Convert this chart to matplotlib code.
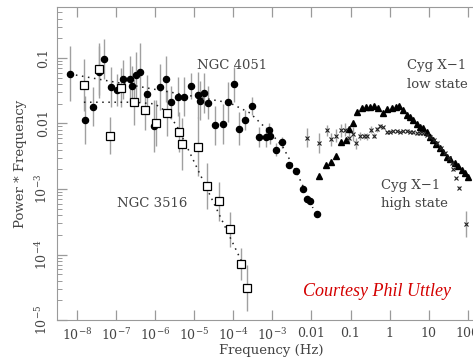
import numpy as np
import matplotlib
matplotlib.use("Agg")
import matplotlib.pyplot as plt

# NGC 4051 (filled circles)
ngc4051_freq = [6.75e-9, 1.66e-8, 2.61e-8, 3.59e-8, 4.99e-8, 7.28e-8, 1.04e-7, 1.50e-7,
                2.27e-7, 2.55e-7, 3.29e-7, 4.08e-7, 6.07e-7, 9.48e-7, 1.33e-6, 1.86e-6,
                2.58e-6, 3.83e-6, 5.55e-6, 8.24e-6, 1.22e-5, 1.37e-5, 1.80e-5, 2.28e-5,
                3.38e-5, 5.32e-5, 7.28e-5, 1.02e-4, 1.41e-4, 2.01e-4, 2.99e-4, 4.44e-4,
                6.70e-4, 8.00e-4, 8.79e-4, 1.21e-3, 1.78e-3, 2.69e-3, 4.06e-3, 6.03e-3,
                7.76e-3, 9.27e-3, 1.37e-2]
ngc4051_power = [5.70e-2, 1.13e-2, 1.81e-2, 6.11e-2, 9.66e-2, 3.61e-2, 3.24e-2, 4.72e-2,
                 4.72e-2, 3.74e-2, 5.50e-2, 6.04e-2, 2.79e-2, 9.16e-3, 3.57e-2, 4.78e-2,
                 2.10e-2, 2.57e-2, 2.57e-2, 3.78e-2, 2.72e-2, 2.23e-2, 2.92e-2, 2.08e-2,
                 9.38e-3, 9.82e-3, 2.13e-2, 3.96e-2, 8.34e-3, 1.12e-2, 1.83e-2, 6.28e-3,
                 6.28e-3, 7.96e-3, 6.38e-3, 3.98e-3, 5.16e-3, 2.35e-3, 1.86e-3, 1.01e-3,
                 7.03e-4, 6.62e-4, 4.11e-4]
# error bar half-size in decades
ngc4051_err = [0.42, 0.36, 0.3, 0.4, 0.3, 0.3, 0.25, 0.3, 0.35, 0.3, 0.35, 0.45, 0.3, 0.4,
               0.35, 0.35, 0.25, 0.3, 0.3, 0.2, 0.35, 0.3, 0.3, 0.25, 0.3, 0.3, 0.3, 0.27,
               0.25, 0.15, 0.14, 0.15, 0.15, 0.1, 0.12, 0.1, 0.08, 0.04, 0.03, 0.02, 0.02,
               0.02, 0.02]
ngc4051_model_freq = [6.62e-9, 8.18e-5, 2.66e-4, 8.63e-4, 1.86e-3, 4.49e-3, 1.09e-2]
ngc4051_model_power = [5.70e-2, 2.06e-2, 1.45e-2, 7.41e-3, 4.38e-3, 1.64e-3, 5.13e-4]

# NGC 3516 (open squares)
ngc3516_freq = [1.54e-8, 3.59e-8, 6.98e-8, 1.33e-7, 2.92e-7, 5.38e-7, 1.03e-6, 2.04e-6,
                4.06e-6, 4.84e-6, 1.22e-5, 2.19e-5, 4.20e-5, 8.18e-5, 1.62e-4, 2.27e-4]
ngc3516_power = [3.87e-2, 6.79e-2, 6.52e-3, 3.52e-2, 2.10e-2, 1.59e-2, 1.02e-2, 1.45e-2,
                 7.41e-3, 4.86e-3, 4.43e-3, 1.12e-3, 6.49e-4, 2.43e-4, 7.16e-5, 3.05e-5]
ngc3516_err = [0.4, 0.4, 0.28, 0.3, 0.35, 0.3, 0.35, 0.35, 0.3, 0.4, 0.45, 0.35, 0.3,
               0.27, 0.25, 0.35]
ngc3516_model_freq = [1.51e-8, 3.04e-7, 9.89e-7, 2.00e-6, 3.61e-6, 4.84e-6, 1.66e-4]
ngc3516_model_power = [2.11e-2, 2.11e-2, 1.99e-2, 1.50e-2, 9.16e-3, 6.44e-3, 7.67e-5]

# Cyg X-1 low state (filled triangles)
cyg_low_freq = [1.57e-2, 2.33e-2, 3.08e-2, 4.13e-2, 5.65e-2, 7.45e-2, 9.06e-2, 0.116,
                0.145, 0.191, 0.246, 0.310, 0.394, 0.508, 0.658, 0.834, 1.12, 1.44, 1.75,
                2.18, 2.70, 3.29, 3.92, 4.88, 5.92, 7.06, 8.79, 10.7, 13.0, 15.8, 19.2,
                23.3, 28.5, 34.7, 46.6, 55.5, 69.0, 83.8, 102]
cyg_low_power = [1.58e-3, 2.32e-3, 2.61e-3, 3.16e-3, 5.13e-3, 5.60e-3, 8.15e-3, 1.02e-2,
                 1.51e-2, 1.71e-2, 1.77e-2, 1.80e-2, 1.87e-2, 1.71e-2, 1.46e-2, 1.65e-2,
                 1.71e-2, 1.77e-2, 1.85e-2, 1.61e-2, 1.35e-2, 1.26e-2, 1.13e-2, 9.82e-3,
                 8.85e-3, 8.53e-3, 7.41e-3, 6.28e-3, 5.60e-3, 4.86e-3, 4.23e-3, 3.67e-3,
                 3.11e-3, 2.87e-3, 2.47e-3, 2.24e-3, 1.95e-3, 1.75e-3, 1.54e-3]

# Cyg X-1 high state (crosses)
cyg_high_freq = [7.76e-3, 1.55e-2, 2.43e-2, 3.08e-2, 4.21e-2, 5.82e-2, 7.36e-2, 9.16e-2,
                 0.115, 0.142, 0.178, 0.219, 0.266, 0.327, 0.394, 0.484, 0.578, 0.690,
                 0.834, 1.01, 1.23, 1.50, 1.82, 2.21, 2.70, 3.29, 3.99, 4.88, 5.92, 7.19,
                 8.79, 10.7, 13.5, 16.4, 20.4, 25.8, 32.7, 38.3, 40.6, 50.8, 59.8, 88.9]
cyg_high_power = [6.11e-3, 4.99e-3, 7.87e-3, 5.75e-3, 6.49e-3, 7.87e-3, 8.04e-3, 6.11e-3,
                  6.92e-3, 4.99e-3, 6.40e-3, 6.40e-3, 6.38e-3, 8.04e-3, 6.49e-3, 8.15e-3,
                  9.23e-3, 8.69e-3, 7.29e-3, 7.50e-3, 7.68e-3, 7.68e-3, 7.41e-3, 7.68e-3,
                  7.76e-3, 7.50e-3, 7.34e-3, 7.08e-3, 7.08e-3, 7.08e-3, 6.67e-3, 6.28e-3,
                  5.60e-3, 5.09e-3, 4.18e-3, 3.51e-3, 2.94e-3, 2.47e-3, 2.00e-3, 1.47e-3,
                  1.05e-3, 2.90e-4]
cyg_high_err = [0.15, 0.15, 0.08, 0.1, 0.1, 0.1, 0.1, 0.1, 0.1, 0.08, 0.06, 0.05, 0.05,
                0.05, 0.04, 0.04, 0.03, 0.03, 0.03, 0.02, 0.02, 0.02, 0.02, 0.02, 0.02,
                0.02, 0.02, 0.02, 0.02, 0.02, 0.02, 0.02, 0.02, 0.02, 0.02, 0.02, 0.02,
                0.02, 0.02, 0.02, 0.02, 0.2]

xtick_vals = [1e-8, 1e-7, 1e-6, 1e-5, 1e-4, 1e-3, 1e-2, 1e-1, 1, 10, 100]
xtick_labels = ["$10^{-8}$", "$10^{-7}$", "$10^{-6}$", "$10^{-5}$", "$10^{-4}$",
                "$10^{-3}$", "0.01", "0.1", "1", "10", "100"]
ytick_vals = [1e-5, 1e-4, 1e-3, 1e-2, 1e-1]
ytick_labels = ["$10^{-5}$", "$10^{-4}$", "$10^{-3}$", "0.01", "0.1"]


def log_err(power, dex):
    p = np.array(power)
    d = np.array(dex)
    return [p - p * 10**(-d), p * 10**d - p]


plt.rcParams["font.family"] = ["DejaVu Serif"]
plt.rcParams["mathtext.fontset"] = "dejavuserif"

fig = plt.figure(figsize=(4.73, 3.59), dpi=100)
ax = fig.add_axes([0.1205, 0.1086, 0.908, 0.8719])

err_color = "#a0a0a0"
ax.errorbar(ngc4051_freq, ngc4051_power, yerr=log_err(ngc4051_power, ngc4051_err),
            fmt="none", ecolor=err_color, elinewidth=1, zorder=1)
ax.errorbar(ngc3516_freq, ngc3516_power, yerr=log_err(ngc3516_power, ngc3516_err),
            fmt="none", ecolor=err_color, elinewidth=1, zorder=1)
ax.errorbar(cyg_high_freq, cyg_high_power, yerr=log_err(cyg_high_power, cyg_high_err),
            fmt="none", ecolor=err_color, elinewidth=1, zorder=1)

ax.plot(ngc4051_model_freq, ngc4051_model_power, color="#222222", lw=1.1,
        linestyle=(0, (1, 3)), zorder=2)
ax.plot(ngc3516_model_freq, ngc3516_model_power, color="#222222", lw=1.1,
        linestyle=(0, (1, 3)), zorder=2)

ax.plot(ngc4051_freq, ngc4051_power, "o", color="black", ms=4.4, zorder=3)
ax.plot(ngc3516_freq, ngc3516_power, "s", mfc="white", mec="black", mew=0.9, ms=6,
        zorder=3)
ax.plot(cyg_low_freq, cyg_low_power, "^", color="black", ms=4, zorder=3)
ax.plot(cyg_high_freq, cyg_high_power, "x", color="#222222", ms=3.5, mew=0.8, zorder=3)

ax.set_xscale("log")
ax.set_yscale("log")
ax.set_xlim(3.1e-9, 300)
ax.set_ylim(1e-5, 0.6)

ax.set_xticks(xtick_vals)
ax.set_xticklabels(xtick_labels)
ax.set_yticks(ytick_vals)
ax.set_yticklabels(ytick_labels, rotation=90, va="center")

for s in ax.spines.values():
    s.set_color("#9a9a9a")
ax.tick_params(which="both", direction="in", top=True, right=True, color="#9a9a9a",
               labelcolor="#444444", labelsize=9)
ax.tick_params(which="major", length=7, width=0.9)
ax.tick_params(which="minor", length=3.5, width=0.7)
ax.tick_params(axis="x", pad=5)
ax.tick_params(axis="y", pad=5)

ax.set_xlabel("Frequency (Hz)", fontsize=9.5, color="#444444", labelpad=1)
ax.set_ylabel("Power * Frequency", fontsize=9.5, color="#444444", labelpad=5)

txt = dict(fontsize=9.5, color="#444444", ha="left", va="center")
ax.text(1.15e-5, 0.078, "NGC 4051", **txt)
ax.text(1.04e-7, 6.1e-4, "NGC 3516", **txt)
ax.text(2.7, 0.078, "Cyg X\u22121", **txt)
ax.text(2.7, 0.0387, "low state", **txt)
ax.text(0.596, 1.15e-3, "Cyg X\u22121", **txt)
ax.text(0.596, 6.05e-4, "high state", **txt)
ax.text(6.0e-3, 2.7e-5, "Courtesy Phil Uttley", fontsize=13, color="#d40000",
        family="Liberation Serif", style="italic", ha="left", va="center")

fig.savefig("out.png", dpi=100)
